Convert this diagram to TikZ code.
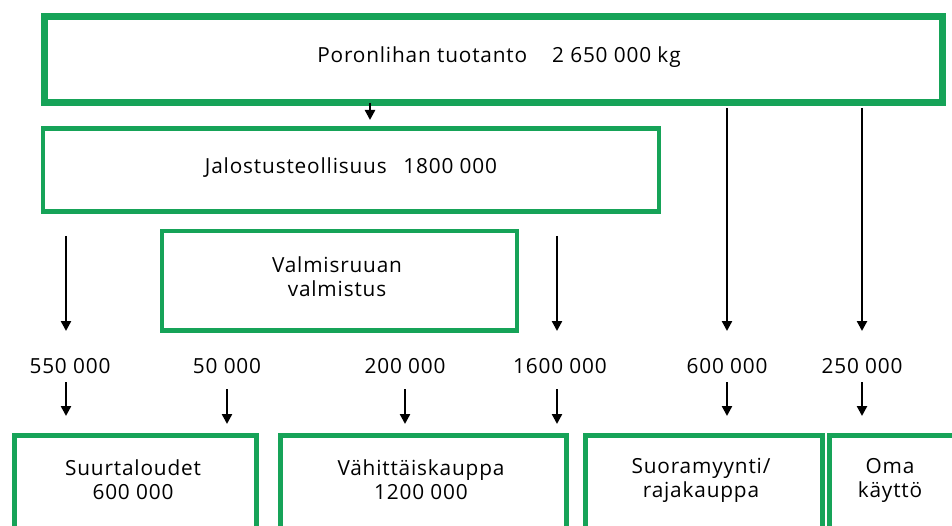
\documentclass[tikz,border=0pt]{standalone}
\usepackage{fontspec}
\setmainfont{Open Sans}[LetterSpace=4]
\usetikzlibrary{arrows.meta}
\definecolor{boxgreen}{RGB}{22,163,88}
\tikzset{
  gbox/.style={draw=boxgreen, line width=4.5pt, fill=none, inner sep=0pt, anchor=north west},
  txt/.style={font=\fontsize{20.8}{24}\selectfont, align=center, inner sep=1pt},
  num/.style={font=\fontsize{20.8}{24}\selectfont, inner sep=1pt},
  arr/.style={line width=2.4pt, -{Triangle[length=10pt,width=10pt]}},
}
\begin{document}
\begin{tikzpicture}[x=1pt,y=-1pt]
\useasboundingbox (0,0) rectangle (952,526);
% boxes
\node[gbox, line width=7pt, minimum width=898pt, minimum height=86pt] (top) at (40.5,13.5) {};
\node[txt] (toptxt) at (499,57) {Poronlihan tuotanto\hspace{1.2em}2 650 000 k\kern1pt g};
\node[gbox, minimum width=616pt, minimum height=83pt] (jal) at (40.5,126.5) {};
\node[txt] (jaltxt) at (351,168) {Jalostusteollisuus\hspace{0.8em}1800 000};
\node[gbox, minimum width=355pt, minimum height=99pt] (val) at (159.5,229) {};
\node[txt] (valtxt) at (337,277) {Valmisruuan\\valmistus};
% bottom boxes (open at the bottom of the page)
\node[gbox, minimum width=242pt, minimum height=140pt] (b1) at (12,433) {};
\node[gbox, minimum width=286pt, minimum height=140pt] (b2) at (278,433) {};
\node[gbox, minimum width=237pt, minimum height=140pt] (b3) at (583,433) {};
\node[gbox, minimum width=200pt, minimum height=140pt] (b4) at (827,433) {};
\node[txt] (t1) at (133,480) {Suurtaloudet\\600 000};
\node[txt] (t2) at (421,480) {Vähittäiskauppa\\1200 000};
\node[txt] (t3) at (701,480) {Suoramyynti/\\rajakauppa};
\node[txt] (t4) at (890,480) {Oma\\käyttö};
% number labels
\node[num] (n1) at (70,366) {550 000};
\node[num] (n2) at (227,366) {50 000};
\node[num] (n3) at (405,366) {200 000};
\node[num] (n4) at (560,366) {1600 000};
\node[num] (n5) at (727,366) {600 000};
\node[num] (n6) at (862,366) {250 000};
% long arrows
\coordinate (a0s) at (370,103);
\coordinate (a0e) at (370,120);
\coordinate (a1s) at (66,236);
\coordinate (a1e) at (66,331);
\coordinate (a4s) at (557,236);
\coordinate (a4e) at (557,331);
\coordinate (a5s) at (727,108);
\coordinate (a5e) at (727,331);
\coordinate (a6s) at (862,108);
\coordinate (a6e) at (862,331);
\draw[arr] (a0s) -- (a0e);
\draw[arr] (a1s) -- (a1e);
\draw[arr] (a4s) -- (a4e);
\draw[arr] (a5s) -- (a5e);
\draw[arr] (a6s) -- (a6e);
% short arrows to bottom boxes
\coordinate (s1) at (66,382); \coordinate (e1) at (66,416);
\coordinate (s2) at (227,389); \coordinate (e2) at (227,424);
\coordinate (s3) at (405,389); \coordinate (e3) at (405,424);
\coordinate (s4) at (557,389); \coordinate (e4) at (557,424);
\coordinate (s5) at (727,382); \coordinate (e5) at (727,416);
\coordinate (s6) at (862,382); \coordinate (e6) at (862,416);
\foreach \i in {1,...,6} {\draw[arr] (s\i) -- (e\i);}
\end{tikzpicture}
\end{document}
